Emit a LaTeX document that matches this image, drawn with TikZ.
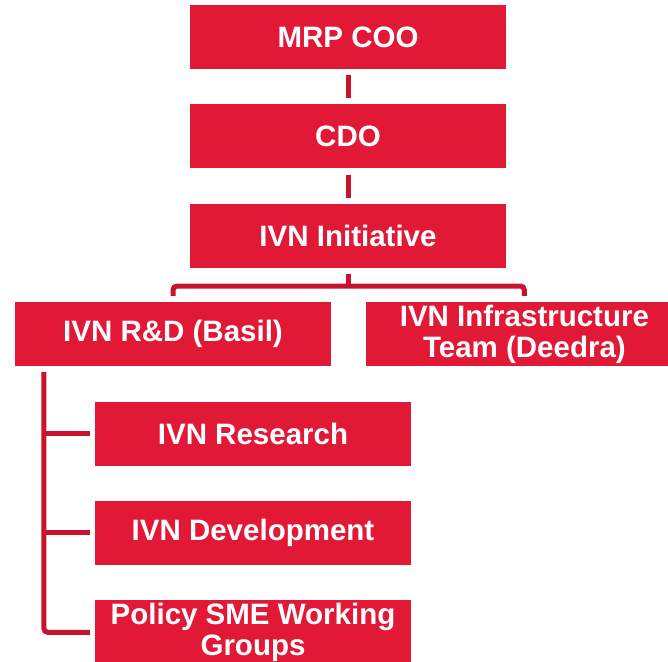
\documentclass[tikz,border=0pt]{standalone}
\usepackage{fontspec}
\setmainfont{Liberation Sans}
\usetikzlibrary{positioning}

\definecolor{boxred}{RGB}{226,25,54}
\definecolor{linered}{RGB}{200,18,46}

\begin{document}
\begin{tikzpicture}[x=1pt,y=1pt,node distance=35pt,
                    org node/.style={rectangle,fill=boxred,text=white,inner sep=0pt,
                      minimum width=316pt,minimum height=64pt,align=center,
                      font=\fontsize{29.5}{31}\selectfont\bfseries},
                    link/.style={draw=linered,line width=5pt,shorten >=6pt,shorten <=6pt}]

\useasboundingbox (0,0) rectangle (668,-661);

\node[org node] (coo) at (348,-37) {MRP COO};
\node[org node] (cdo) [below=of coo] {CDO};
\node[org node] (ivn) [below=of cdo] {IVN Initiative};
\node[org node] (rd) at (173,-334) {IVN R\&D (Basil)};
\node[org node] (infra) [right=of rd] {IVN Infrastructure\\Team (Deedra)};
\node[org node] (research) at (253,-433.5) {IVN Research};
\node[org node] (dev) [below=of research] {IVN Development};
\node[org node] (policy) [below=of dev] {Policy SME Working\\Groups};

\coordinate (split) at ([yshift=-18pt]ivn.south);
\coordinate (trunk) at ([xshift=29pt]rd.south west);

\path[link]
(coo) edge (cdo)
(cdo) edge (ivn);
\draw[link,shorten >=0pt] (ivn.south) -- (split);
\draw[link,rounded corners=4pt] (rd.north) |- (split) -| (infra.north);
\draw[link,rounded corners=4pt,shorten >=5pt] (trunk) |- (policy.west);
\draw[link,shorten <=0pt,shorten >=5pt] (trunk |- research.west) -- (research.west);
\draw[link,shorten <=0pt,shorten >=5pt] (trunk |- dev.west) -- (dev.west);
\end{tikzpicture}
\end{document}
